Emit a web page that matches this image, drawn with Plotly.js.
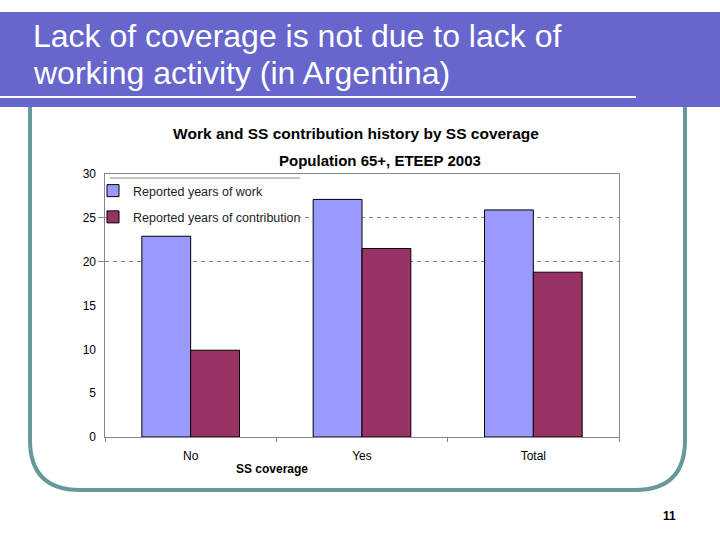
<!DOCTYPE html>
<html>
<head>
<meta charset="utf-8">
<script src="https://cdn.plot.ly/plotly-3.0.1.min.js"></script>
<style>
  html, body { margin: 0; padding: 0; background: #fff; }
  #chart { width: 720px; height: 540px; }
</style>
</head>
<body>
<div id="chart"></div>
<script>
const categories = ["No", "Yes", "Total"];
const yearsOfWork = [22.9, 27.1, 25.9];
const yearsOfContribution = [9.9, 21.5, 18.8];
const yTicks = [0, 5, 10, 15, 20, 25, 30];
const gridTicks = [20, 25];

// plot area in pixels
const L = 105, R = 619, T = 174, B = 437;
function px(x) { return (x - L) / (R - L); }
function py(y) { return (B - y) / (B - T); }

const traces = [
  {
    type: "bar",
    name: "Reported years of work",
    legendgroup: "work",
    x: categories,
    y: yearsOfWork,
    marker: { color: "#9999ff", line: { color: "#000", width: 1 } }
  },
  {
    type: "bar",
    name: "Reported years of contribution",
    legendgroup: "contrib",
    x: categories,
    y: yearsOfContribution,
    marker: { color: "#993366", line: { color: "#000", width: 1 } }
  },
  {
    // invisible trace to carry the labelled axis
    type: "scatter",
    x: categories,
    y: yearsOfWork,
    yaxis: "y2",
    mode: "none",
    showlegend: false,
    hoverinfo: "skip"
  }
];

const framePath =
  "M " + px(30) + "," + py(107) +
  " L " + px(30) + "," + py(440) +
  " Q " + px(30) + "," + py(490) + " " + px(80) + "," + py(490) +
  " L " + px(635) + "," + py(490) +
  " Q " + px(685) + "," + py(490) + " " + px(685) + "," + py(440) +
  " L " + px(685) + "," + py(107);

const layout = {
  width: 720,
  height: 540,
  margin: { l: L, r: 720 - R, t: T, b: 540 - B, pad: 0 },
  paper_bgcolor: "#fff",
  plot_bgcolor: "#fff",
  font: { family: "Liberation Sans, Arial, sans-serif", size: 12, color: "#000" },
  barmode: "group",
  bargap: 0.43,
  bargroupgap: 0,
  title: {
    text: "<b>Work and SS contribution history by SS coverage</b>",
    font: { size: 15.5, color: "#000" },
    x: px(356), xref: "paper", xanchor: "center",
    y: 1 - 134 / 540, yref: "container", yanchor: "middle"
  },
  xaxis: {
    showline: true, linecolor: "#888", linewidth: 1, mirror: true,
    ticks: "outside", tickson: "boundaries", ticklen: 4, tickcolor: "#888",
    tickfont: { size: 12 }, ticklabelstandoff: 8,
    fixedrange: true
  },
  yaxis: {
    range: [0, 30],
    tickvals: gridTicks,
    showticklabels: false,
    showgrid: true, gridcolor: "#888", griddash: "4px,4px", gridwidth: 1,
    ticks: "outside", ticklen: 6, tickcolor: "#888",
    zeroline: false,
    showline: true, linecolor: "#888", linewidth: 1, mirror: true
  },
  yaxis2: {
    overlaying: "y",
    side: "left",
    range: [0, 30],
    tickvals: yTicks,
    showgrid: false, zeroline: false, showline: false,
    ticks: "", ticklabelstandoff: 8,
    tickfont: { size: 12 }
  },
  legend: {
    x: px(93), y: py(176), xanchor: "left", yanchor: "top",
    bgcolor: "rgba(0,0,0,0)",
    font: { size: 12.5, color: "#222" },
    traceorder: "grouped",
    tracegroupgap: 7,
    itemwidth: 30
  },
  showlegend: true,
  shapes: [
    // legend backing box (covers the dashed grid behind the legend)
    { type: "rect", xref: "paper", yref: "paper", layer: "above",
      x0: px(110), x1: px(300), y0: py(178), y1: py(231),
      fillcolor: "#fff", line: { width: 0 } },
    { type: "line", xref: "paper", yref: "paper", layer: "above",
      x0: px(110), x1: px(300), y0: py(178), y1: py(178),
      line: { color: "#888", width: 1 } },
    { type: "rect", xref: "paper", yref: "paper", layer: "above",
      x0: px(0), x1: px(720), y0: py(12), y1: py(107),
      fillcolor: "#6666cc", line: { width: 0 } },
    { type: "line", xref: "paper", yref: "paper", layer: "above",
      x0: px(0), x1: px(636), y0: py(97), y1: py(97),
      line: { color: "#fff", width: 2 } },
    { type: "path", xref: "paper", yref: "paper", layer: "above",
      path: framePath, line: { color: "#669999", width: 4 } }
  ],
  annotations: [
    { xref: "paper", yref: "paper", x: px(31), y: py(36),
      xanchor: "left", yanchor: "middle", showarrow: false,
      text: "Lack of coverage is not due to lack of",
      font: { size: 32, color: "#fff" } },
    { xref: "paper", yref: "paper", x: px(31), y: py(73),
      xanchor: "left", yanchor: "middle", showarrow: false,
      text: "working activity (in Argentina)",
      font: { size: 32, color: "#fff" } },
    { xref: "paper", yref: "paper", x: px(380), y: py(160),
      xanchor: "center", yanchor: "middle", showarrow: false,
      text: "<b>Population 65+, ETEEP 2003</b>",
      font: { size: 15, color: "#000" } },
    { xref: "paper", yref: "paper", x: px(272), y: py(469),
      xanchor: "center", yanchor: "middle", showarrow: false,
      text: "<b>SS coverage</b>",
      font: { size: 12, color: "#000" } },
    { xref: "paper", yref: "paper", x: px(669), y: py(516),
      xanchor: "center", yanchor: "middle", showarrow: false,
      text: "<b>11</b>",
      font: { size: 12, color: "#000" } }
  ]
};

Plotly.newPlot("chart", traces, layout, { displayModeBar: false, staticPlot: true });
</script>
</body>
</html>
